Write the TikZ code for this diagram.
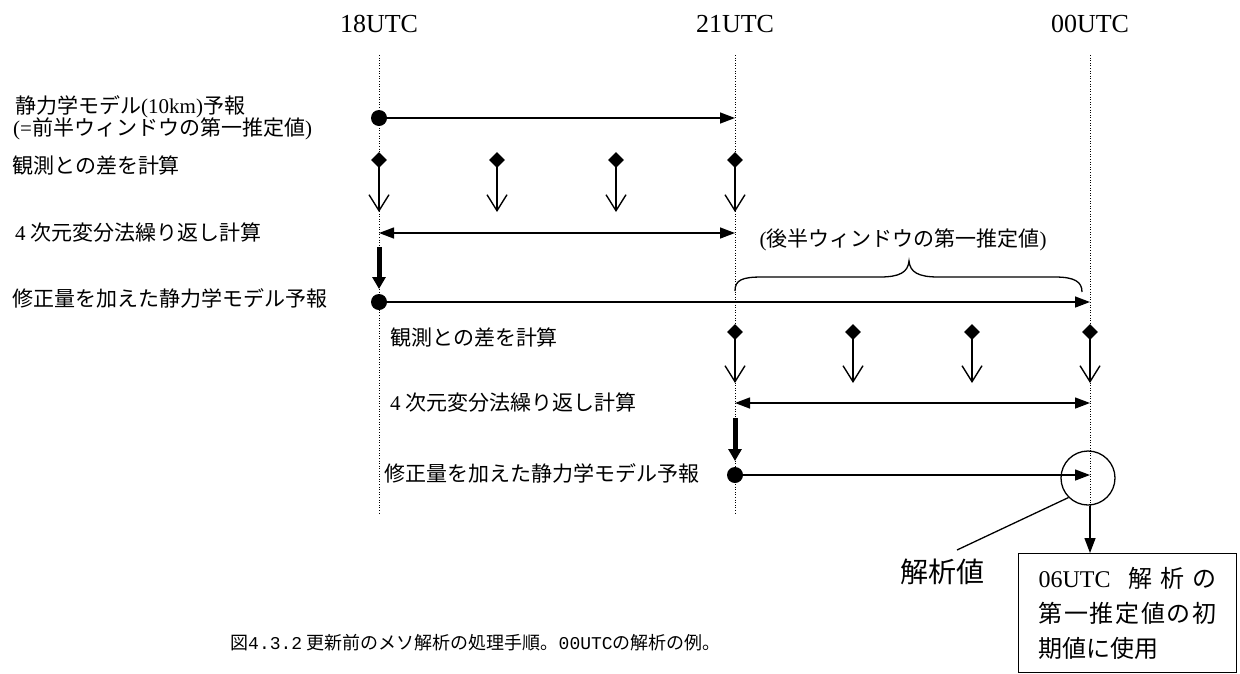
\documentclass[tikz,border=0pt]{standalone}
\usepackage{fontspec}
\setmainfont{Liberation Serif}
\newfontfamily\jp{Noto Sans CJK JP}
\newfontfamily\mono{Liberation Mono}
\usetikzlibrary{arrows.meta,shapes.geometric}
\begin{document}
\begin{tikzpicture}[x=1pt,y=-1pt,
 timelbl/.style={font=\fontsize{26}{30}\selectfont, inner sep=0},
 lbl/.style={font=\fontsize{21}{24}\selectfont, anchor=west, inner sep=0},
 dotnode/.style={circle, fill, inner sep=0, minimum size=16pt},
 dianode/.style={diamond, fill, inner sep=0, minimum size=16pt},
 vguide/.style={line width=1pt, dash pattern=on 1pt off 1.6pt},
 fwd/.style={line width=1.4pt, -{Triangle[length=15pt,width=11pt]}},
 both/.style={line width=1.4pt, {Triangle[length=15pt,width=11pt]}-{Triangle[length=15pt,width=11pt]}},
 obs/.style={line width=1.4pt, -{Straight Barb[length=16pt,width=20pt]}},
 corr/.style={line width=5pt, -{Triangle[length=12pt,width=13pt]}},
]
\useasboundingbox (0,0) rectangle (1240,673);

% time labels
\node[timelbl] (t18) at (379,24) {18UTC};
\node[timelbl] (t21) at (735,24) {21UTC};
\node[timelbl] (t00) at (1090,24) {00UTC};

% guide lines
\coordinate (Atop) at (379,55); \coordinate (Abot) at (379,515);
\coordinate (Btop) at (735,55); \coordinate (Bbot) at (735,515);
\coordinate (Ctop) at (1090,55); \coordinate (Cbot) at (1090,505);
\draw[vguide] (Atop) -- (Abot);
\draw[vguide] (Btop) -- (Bbot);
\draw[vguide] (Ctop) -- (Cbot);

% left labels
\node[lbl] (l1a) at (15,107) {{\jp 静力学モデル}(10km){\jp 予報}};
\node[lbl] (l1b) at (13,129) {(={\jp 前半ウィンドウの第一推定値})};
\node[lbl] (l2) at (12,165) {\jp 観測との差を計算};
\node[lbl] (l3) at (15,233) {4 {\jp 次元変分法繰り返し計算}};
\node[lbl] (l4) at (12,298) {\jp 修正量を加えた静力学モデル予報};
\node[lbl] (l5) at (390,337) {\jp 観測との差を計算};
\node[lbl] (l6) at (390,403) {4 {\jp 次元変分法繰り返し計算}};
\node[lbl] (l7) at (384,473) {\jp 修正量を加えた静力学モデル予報};

% row 1
\node[dotnode] (d1) at (379,118) {};
\coordinate (e1) at (735,118);
\draw[fwd] (d1.center) -- (e1);

% row 2: observations
\foreach \i/\x in {1/379,2/497,3/616,4/735}{
  \coordinate (oa\i e) at (\x,212);
  \draw[obs] (\x,160) -- (oa\i e);
  \node[dianode] (oa\i) at (\x,160) {};
}

% row 3
\coordinate (r3a) at (379,233); \coordinate (r3b) at (735,233);
\draw[both] (r3a) -- (r3b);

% correction arrow 1
\coordinate (k1a) at (379,247); \coordinate (k1b) at (379,289);
\draw[corr] (k1a) -- (k1b);

% row 4
\node[dotnode] (d4) at (379,302) {};
\coordinate (e4) at (1090,302);
\draw[fwd] (d4.center) -- (e4);

% brace
\draw[line width=1.3pt] (735,291) .. controls (735,280) and (742,277) .. (762,277)
  -- (880,277) .. controls (900,277) and (908,272) .. (909,261)
  .. controls (910,272) and (918,277) .. (938,277)
  -- (1055,277) .. controls (1075,277) and (1082,282) .. (1082,292);
\node[font=\fontsize{21}{24}\selectfont, inner sep=0] (bracelbl) at (903,240) {({\jp 後半ウィンドウの第一推定値})};

% row 5: observations
\foreach \i/\x in {1/735,2/853,3/972,4/1090}{
  \coordinate (ob\i e) at (\x,383);
  \draw[obs] (\x,332) -- (ob\i e);
  \node[dianode] (ob\i) at (\x,332) {};
}

% row 6
\coordinate (r6a) at (735,403); \coordinate (r6b) at (1090,403);
\draw[both] (r6a) -- (r6b);

% correction arrow 2
\coordinate (k2a) at (735,418); \coordinate (k2b) at (735,461);
\draw[corr] (k2a) -- (k2b);

% row 7
\node[dotnode] (d7) at (735,475) {};
\coordinate (e7) at (1090,475);
\draw[fwd] (d7.center) -- (e7);

% analysis circle
\node[circle, draw, line width=1.3pt, minimum size=54pt, inner sep=0] (anacirc) at (1088,478) {};

% analysis label and leader
\node[font=\fontsize{28}{32}\selectfont, inner sep=0] (anaval) at (942,572) {\jp 解析値};
\coordinate (lead) at (957,550);
\draw[line width=1.3pt] (lead) -- (anacirc.225);

% box
\node[draw, line width=1.3pt, anchor=north west, minimum width=218pt, minimum height=119pt,
      text width=178pt, align=left, inner sep=0,
      font=\fontsize{24}{35}\selectfont] (usebox) at (1018,553)
  {\makebox[178pt][s]{06UTC\hspace{10pt}\hfill{\jp 解}\hfill{\jp 析}\hfill{\jp の}}\\
   \makebox[178pt][s]{\jp 第\hfill 一\hfill 推\hfill 定\hfill 値\hfill の\hfill 初}\\
   {\jp 期値に使用}};
\draw[fwd] (1090,506) -- (usebox.north -| e7);

% caption
\node[font=\fontsize{18}{22}\selectfont, inner sep=0, anchor=west] (caption) at (230,643)
  {{\jp 図}{\mono 4.3.2} {\jp 更新前のメソ解析の処理手順。}{\mono 00UTC}{\jp の解析の例。}};
\end{tikzpicture}
\end{document}
